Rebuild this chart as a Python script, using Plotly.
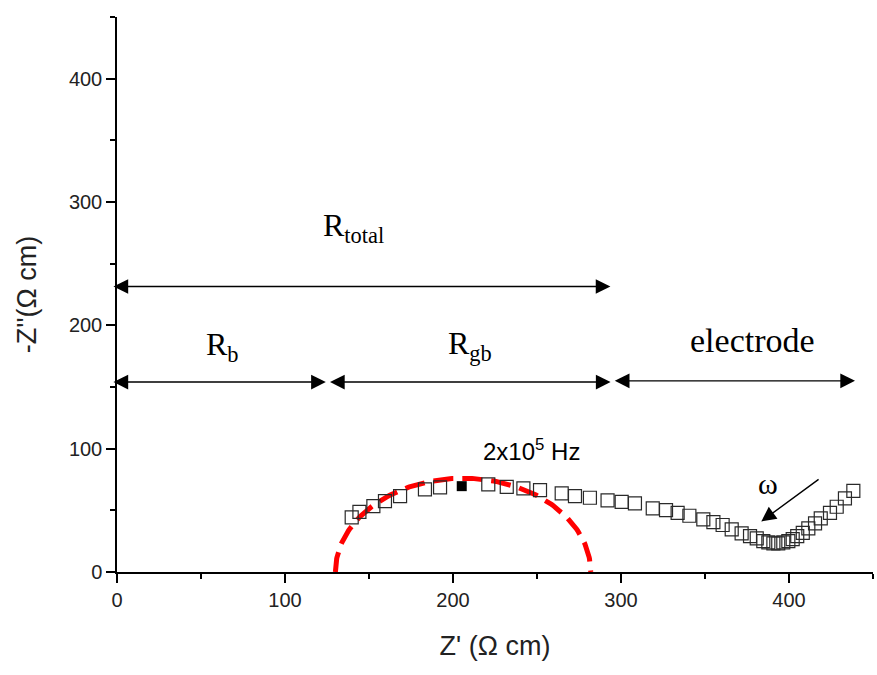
import numpy as np
import plotly.graph_objects as go

# Impedance spectrum (Nyquist plot), Z' and -Z'' in ohm*cm
z_real = [139.7, 144.3, 152.6, 159.5, 168.5, 183.3, 192.3, 221.0, 232.0, 241.9,
          251.8, 264.7, 272.6, 281.5, 292.0, 300.4, 308.3, 318.9, 326.8, 333.7,
          340.7, 349.0, 355.0, 360.5, 365.9, 371.8, 376.8, 380.8, 384.7, 387.7,
          390.7, 393.6, 396.6, 399.6, 402.2, 404.9, 408.2, 411.5, 415.5, 418.9,
          424.4, 428.4, 433.3, 438.3]
z_imag = [44.3, 48.8, 53.4, 57.5, 61.5, 67.0, 68.6, 71.0, 69.0, 67.8,
          66.4, 63.7, 61.5, 60.2, 58.0, 56.9, 55.6, 51.6, 50.2, 48.0,
          45.6, 42.7, 40.5, 38.1, 34.6, 31.3, 29.1, 27.3, 25.1, 24.0,
          23.2, 23.2, 24.0, 25.1, 26.7, 29.1, 31.8, 35.4, 39.4, 43.5,
          48.0, 52.9, 59.7, 65.8]

# Point measured at 2x10^5 Hz
peak_real = [205.2]
peak_imag = [69.6]

# Grain-boundary arc fit: intercepts on the real axis
arc_start = 130.0
arc_end = 282.0

# Resistance spans (x from, x to, y level)
spans = {
    "total": (-3.0, 293.7, 231.5),
    "b": (-3.0, 124.3, 154.0),
    "gb": (125.9, 293.8, 154.0),
    "electrode": (295.4, 439.3, 155.0),
}

x_ticks = [0, 100, 200, 300, 400]
y_ticks = [0, 100, 200, 300, 400]

center = (arc_start + arc_end) / 2
radius = (arc_end - arc_start) / 2
theta = np.linspace(np.pi, 0, 200)
arc_x = center + radius * np.cos(theta)
arc_y = radius * np.sin(theta)

fig = go.Figure()

fig.add_trace(go.Scatter(
    x=arc_x, y=arc_y, mode="lines",
    line=dict(color="#ff0000", width=5, dash="20px,9px"),
    hoverinfo="skip", showlegend=False,
))

fig.add_trace(go.Scatter(
    x=z_real, y=z_imag, mode="markers",
    marker=dict(symbol="square-open", size=13, color="#2a2a2a",
                line=dict(width=1.2, color="#2a2a2a")),
    showlegend=False,
))

fig.add_trace(go.Scatter(
    x=peak_real, y=peak_imag, mode="markers",
    marker=dict(symbol="square", size=10, color="#000000"),
    showlegend=False,
))

serif = "Liberation Serif, Times New Roman, serif"
sans = "Liberation Sans, Arial, sans-serif"

annotations = []
for key, (x0, x1, y) in spans.items():
    annotations.append(dict(
        x=x1, y=y, ax=x0, ay=y, xref="x", yref="y", axref="x", ayref="y",
        text="", showarrow=True, arrowhead=2, startarrowhead=2,
        arrowside="end+start", arrowsize=2.1, startarrowsize=2.1,
        arrowwidth=1.4, arrowcolor="#000000",
    ))

label_font = dict(family=serif, size=32, color="#000000")
annotations += [
    dict(x=141, y=279, xref="x", yref="y", text="R<sub>total</sub>",
         showarrow=False, font=label_font),
    dict(x=63, y=183, xref="x", yref="y", text="R<sub>b</sub>",
         showarrow=False, font=label_font),
    dict(x=210, y=184, xref="x", yref="y", text="R<sub>gb</sub>",
         showarrow=False, font=label_font),
    dict(x=378, y=188, xref="x", yref="y", text="electrode",
         showarrow=False, font=dict(family=serif, size=34, color="#000000")),
    dict(x=247, y=99, xref="x", yref="y", text="2x10<sup>5</sup> Hz",
         showarrow=False, font=dict(family=sans, size=24, color="#000000")),
    dict(x=387.5, y=72, xref="x", yref="y", text="ω",
         showarrow=False, font=dict(family=serif, size=30, color="#000000")),
    dict(x=383.5, y=41, ax=418.5, ay=76, xref="x", yref="y", axref="x", ayref="y",
         text="", showarrow=True, arrowhead=2, arrowsize=2.1, arrowwidth=1.4,
         arrowcolor="#000000"),
]

axis_common = dict(
    range=[0, 450], showgrid=False, zeroline=False,
    showline=True, linecolor="#000000", linewidth=1.5,
    ticks="outside", ticklen=9, tickwidth=1.5, tickcolor="#000000",
    tickfont=dict(family=sans, size=20, color="#222222"),
    minor=dict(ticks="outside", ticklen=5, tickwidth=1.5, dtick=50,
               tickcolor="#000000", showgrid=False),
)

fig.update_layout(
    width=877, height=675,
    margin=dict(l=117, r=4, t=17, b=103),
    paper_bgcolor="#ffffff", plot_bgcolor="#ffffff",
    annotations=annotations,
    xaxis=dict(axis_common, tickvals=x_ticks,
               title=dict(text="Z' (Ω cm)", standoff=26,
                          font=dict(family=sans, size=27, color="#222222"))),
    yaxis=dict(axis_common, tickvals=y_ticks,
               title=dict(text="-Z''(Ω cm)", standoff=24,
                          font=dict(family=sans, size=27, color="#222222"))),
)

fig.write_html("out.html")
